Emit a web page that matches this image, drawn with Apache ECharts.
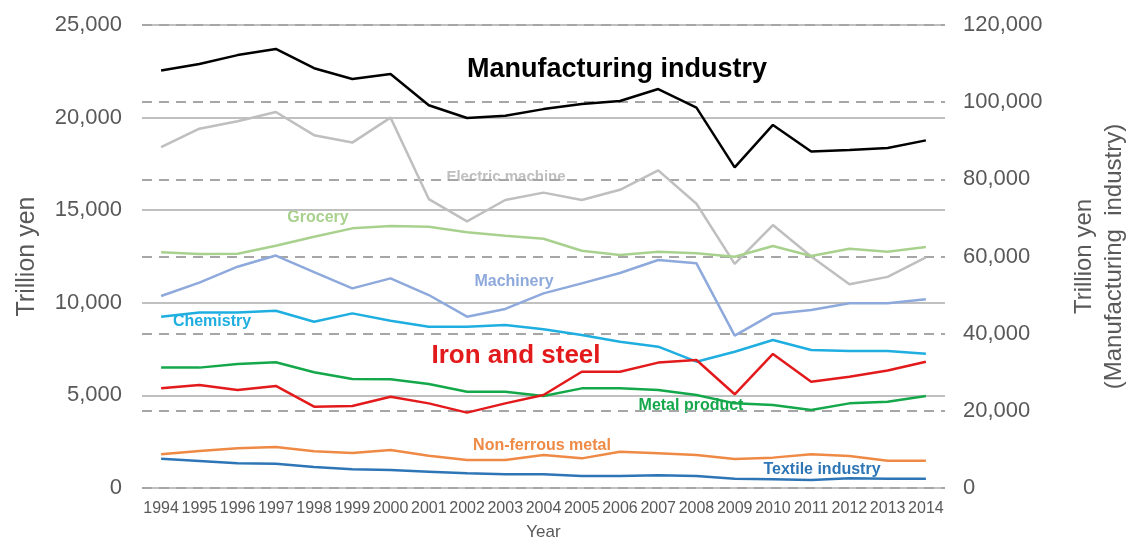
<!DOCTYPE html>
<html>
<head>
<meta charset="utf-8">
<script src="https://cdn.jsdelivr.net/npm/echarts@6/dist/echarts.min.js"></script>
<style>
  html, body { margin: 0; padding: 0; background: #ffffff; overflow: hidden; }
  #chart { width: 1131px; height: 541px; }
</style>
</head>
<body>
<div id="chart"></div>
<script>
// Fiscal years on the horizontal axis
const years = ['1994','1995','1996','1997','1998','1999','2000','2001','2002','2003','2004',
               '2005','2006','2007','2008','2009','2010','2011','2012','2013','2014'];

// Manufacturing industry total (right axis)
const manufacturing = [108200, 109900, 112200, 113800, 108800, 106000, 107300, 99200, 95900, 96500, 98200,
                       99500, 100300, 103400, 98600, 83100, 94100, 87200, 87600, 88100, 90100];

// Individual industries (left axis)
const electricMachine = [18400, 19400, 19800, 20300, 19050, 18650, 20000, 15600, 14400, 15550, 15950,
                         15550, 16100, 17150, 15350, 12100, 14200, 12500, 11000, 11400, 12450];
const grocery = [12730, 12640, 12650, 13080, 13570, 14020, 14150, 14110, 13810, 13620, 13460,
                 12810, 12580, 12760, 12670, 12490, 13070, 12530, 12920, 12760, 13010];
const machinery = [10370, 11090, 11950, 12550, 11660, 10780, 11320, 10420, 9250, 9670, 10510,
                   11050, 11610, 12310, 12130, 8230, 9400, 9610, 9970, 9970, 10190];
const chemistry = [9250, 9470, 9470, 9570, 8980, 9430, 9030, 8710, 8710, 8800, 8570,
                   8260, 7900, 7630, 6820, 7360, 7990, 7450, 7400, 7400, 7250];
const metalProduct = [6500, 6500, 6700, 6790, 6250, 5890, 5870, 5620, 5200, 5200, 4970,
                      5380, 5380, 5290, 5020, 4570, 4480, 4210, 4570, 4660, 4970];
const ironSteel = [5380, 5560, 5290, 5510, 4390, 4430, 4930, 4570, 4070, 4570, 5020,
                   6280, 6280, 6770, 6910, 5060, 7240, 5740, 6010, 6340, 6820];
const nonFerrous = [1820, 2000, 2140, 2210, 1980, 1890, 2050, 1740, 1510, 1510, 1780,
                    1600, 1960, 1870, 1780, 1570, 1640, 1820, 1730, 1470, 1470];
const textile = [1580, 1460, 1330, 1310, 1130, 1010, 970, 880, 790, 740, 740,
                 650, 650, 690, 650, 500, 470, 430, 520, 500, 500];

// Left and right axis ranges
const leftMax = 25000, leftStep = 5000;
const rightMax = 120000, rightStep = 20000;

const FONT = '"Liberation Sans", Arial, sans-serif';
const AXIS_GREY = '#595959';

function line(name, data, color, width, yAxisIndex) {
  return {
    name: name,
    type: 'line',
    data: data,
    yAxisIndex: yAxisIndex || 0,
    symbol: 'none',
    smooth: false,
    lineStyle: { color: color, width: width },
    itemStyle: { color: color },
    z: 3
  };
}

// Series captions placed beside their lines
function caption(text, x, y, color, size) {
  return {
    type: 'text',
    x: x, y: y,
    z: -1,
    style: {
      text: text,
      fill: color,
      font: 'bold ' + size + 'px ' + FONT,
      textAlign: 'center',
      textVerticalAlign: 'middle'
    }
  };
}

const thousands = v => v.toLocaleString('en-US');

const chart = echarts.init(document.getElementById('chart'), null, { renderer: 'canvas' });

chart.setOption({
  backgroundColor: '#ffffff',
  animation: false,
  // fixed plot box; axis names sit outside it
  grid: { left: 142, right: 186, top: 25, bottom: 53, containLabel: false, outerBoundsMode: 'none' },
  xAxis: {
    type: 'category',
    data: years,
    boundaryGap: true,
    name: 'Year',
    nameLocation: 'middle',
    nameGap: 36,
    nameTextStyle: { color: AXIS_GREY, fontSize: 17, fontFamily: FONT },
    axisLine: { show: false },
    axisTick: { show: false },
    axisLabel: { color: AXIS_GREY, fontSize: 16, fontFamily: FONT, interval: 0, margin: 13 },
    splitLine: { show: false }
  },
  yAxis: [
    {
      type: 'value',
      min: 0, max: leftMax, interval: leftStep,
      name: 'Trillion yen',
      nameLocation: 'middle',
      nameGap: 102,
      nameRotate: 90,
      nameTextStyle: { color: AXIS_GREY, fontSize: 25, fontFamily: FONT },
      axisLine: { show: false },
      axisTick: { show: false },
      axisLabel: { color: AXIS_GREY, fontSize: 22, fontFamily: FONT, margin: 20, formatter: thousands },
      splitLine: { show: true, lineStyle: { color: '#C0C0C0', width: 2, type: 'solid' } }
    },
    {
      type: 'value',
      position: 'right',
      min: 0, max: rightMax, interval: rightStep,
      name: 'Trillion yen\n(Manufacturing  industry)',
      nameLocation: 'middle',
      nameGap: 124,
      nameRotate: 90,
      nameTextStyle: { color: AXIS_GREY, fontSize: 24, fontFamily: FONT, lineHeight: 30 },
      axisLine: { show: false },
      axisTick: { show: false },
      axisLabel: { color: AXIS_GREY, fontSize: 22, fontFamily: FONT, margin: 18, formatter: thousands },
      splitLine: { show: true, lineStyle: { color: '#A6A6A6', width: 2, type: [10, 7] } }
    }
  ],
  series: [
    line('Manufacturing industry', manufacturing, '#000000', 2.5, 1),
    line('Electric machine', electricMachine, '#BFBFBF', 2.5),
    line('Grocery', grocery, '#A9D18E', 2.5),
    line('Machinery', machinery, '#8EA9DB', 2.5),
    line('Chemistry', chemistry, '#1FAEE0', 2.5),
    line('Metal product', metalProduct, '#14A84A', 2.5),
    line('Iron and steel', ironSteel, '#E31A1C', 2.5),
    line('Non-ferrous metal', nonFerrous, '#EE8A45', 2.5),
    line('Textile industry', textile, '#2E75B6', 2.5)
  ],
  graphic: [
    caption('Manufacturing industry', 617, 70, '#000000', 27),
    caption('Electric machine', 506, 177, '#BFBFBF', 15),
    caption('Grocery', 318, 218, '#A9D18E', 16),
    caption('Machinery', 514, 282, '#8EA9DB', 16),
    caption('Chemistry', 212, 322, '#1FAEE0', 16),
    caption('Iron and steel', 516, 356, '#E31A1C', 26),
    caption('Metal product', 691, 406, '#14A84A', 16),
    caption('Non-ferrous metal', 542, 446, '#EE8A45', 16),
    caption('Textile industry', 822, 470, '#2E75B6', 16)
  ]
});
</script>
</body>
</html>
